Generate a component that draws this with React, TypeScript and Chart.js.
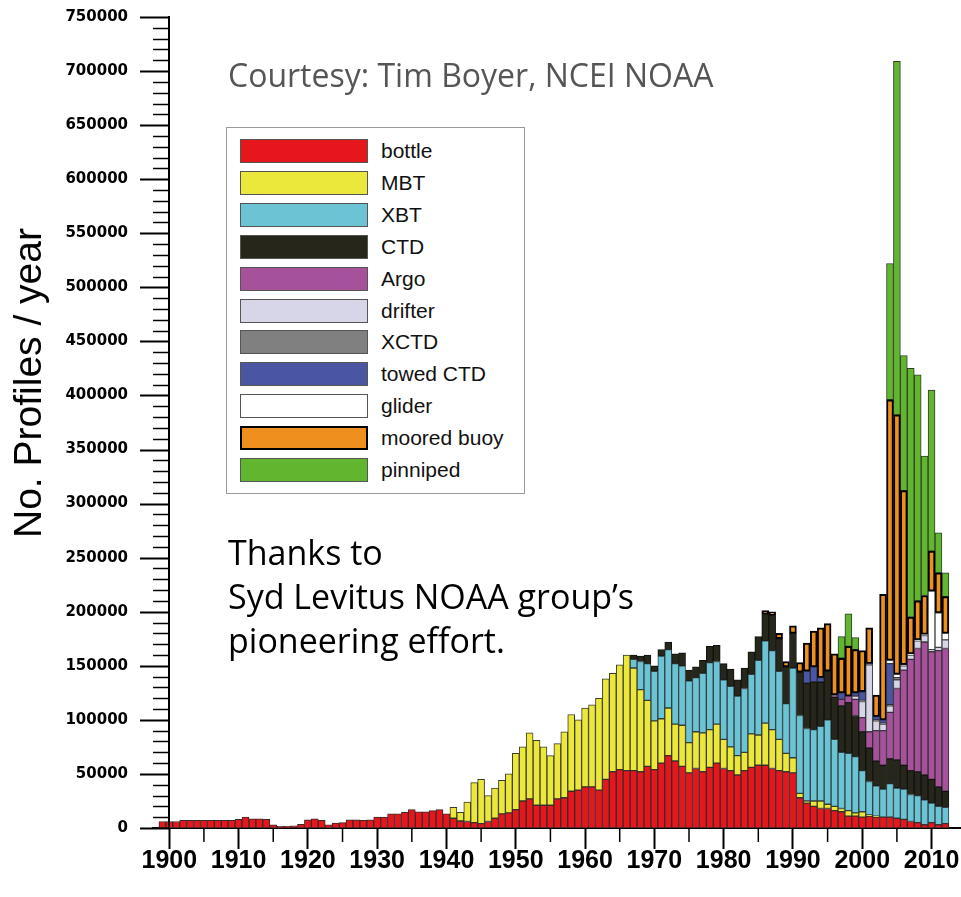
import React, { useEffect, useRef } from 'react';
import { Chart, registerables } from 'chart.js';

Chart.register(...registerables);

// ---------- categories ----------
const YEARS = [
  1899,
  1900, 1901, 1902, 1903, 1904, 1905, 1906, 1907, 1908, 1909,
  1910, 1911, 1912, 1913, 1914, 1915, 1916, 1917, 1918, 1919,
  1920, 1921, 1922, 1923, 1924, 1925, 1926, 1927, 1928, 1929,
  1930, 1931, 1932, 1933, 1934, 1935, 1936, 1937, 1938, 1939,
  1940, 1941, 1942, 1943, 1944, 1945, 1946, 1947, 1948, 1949,
  1950, 1951, 1952, 1953, 1954, 1955, 1956, 1957, 1958, 1959,
  1960, 1961, 1962, 1963, 1964, 1965, 1966, 1967, 1968, 1969,
  1970, 1971, 1972, 1973, 1974, 1975, 1976, 1977, 1978, 1979,
  1980, 1981, 1982, 1983, 1984, 1985, 1986, 1987, 1988, 1989,
  1990, 1991, 1992, 1993, 1994, 1995, 1996, 1997, 1998, 1999,
  2000, 2001, 2002, 2003, 2004, 2005, 2006, 2007, 2008, 2009,
  2010, 2011, 2012,
];

// ---------- series values (profiles per year) ----------
const BOTTLE = [
  6000,
  6000, 6000, 7000, 7000, 7000, 7000, 7000, 7000, 7000, 7000,
  8000, 10000, 8500, 8500, 8000, 3000, 1500, 1500, 2000, 3500,
  7500, 8500, 7000, 3000, 4500, 5000, 7500, 7500, 7000, 7500,
  10000, 10000, 13000, 13000, 14500, 17000, 15000, 15000, 16000, 17000,
  13000, 9000, 6500, 6000, 5000, 4000, 6000, 9000, 13000, 14000,
  17000, 25000, 27000, 21000, 21000, 21000, 27000, 28000, 34000, 35000,
  38000, 38000, 35000, 45000, 52000, 54000, 53000, 53000, 52000, 57000,
  54000, 60000, 67000, 62000, 57000, 51000, 55000, 52000, 56000, 60000,
  55000, 53000, 49000, 53000, 56000, 58000, 58000, 55000, 53000, 52000,
  51000, 28000, 23000, 20000, 18000, 18000, 16000, 15000, 11000, 11000,
  10000, 11000, 10000, 10000, 10000, 9000, 8000, 6000, 5000, 3000,
  5000, 3000, 4000,
];

const MBT = [
  0,
  0, 0, 0, 0, 0, 0, 0, 0, 0, 0,
  0, 0, 0, 0, 0, 0, 0, 0, 0, 0,
  0, 0, 0, 0, 0, 0, 0, 0, 0, 0,
  0, 0, 0, 0, 0, 0, 0, 0, 0, 0,
  0, 10000, 8000, 18000, 37000, 41000, 24000, 28000, 31000, 36000,
  52000, 50000, 61000, 60000, 54000, 46000, 51000, 61000, 71000, 65000,
  73000, 76000, 85000, 93000, 91000, 97000, 107000, 95000, 76000, 61000,
  45000, 41000, 44000, 34000, 38000, 28000, 34000, 36000, 35000, 36000,
  27000, 22000, 18000, 17000, 31000, 28000, 39000, 36000, 29000, 17000,
  14000, 4000, 2000, 5000, 7000, 4000, 4000, 3000, 5000, 3000,
  5000, 1000, 1000, 0, 0, 0, 0, 0, 0, 0,
  0, 0, 0,
];

const XBT = [
  0,
  0, 0, 0, 0, 0, 0, 0, 0, 0, 0,
  0, 0, 0, 0, 0, 0, 0, 0, 0, 0,
  0, 0, 0, 0, 0, 0, 0, 0, 0, 0,
  0, 0, 0, 0, 0, 0, 0, 0, 0, 0,
  0, 0, 0, 0, 0, 0, 0, 0, 0, 0,
  0, 0, 0, 0, 0, 0, 0, 0, 0, 0,
  0, 0, 0, 0, 0, 0, 0, 8000, 26000, 34000,
  46000, 58000, 54000, 56000, 55000, 57000, 50000, 55000, 62000, 58000,
  55000, 56000, 55000, 59000, 55000, 69000, 76000, 73000, 63000, 46000,
  83000, 72000, 67000, 66000, 69000, 78000, 62000, 52000, 53000, 52000,
  38000, 31000, 28000, 26000, 31000, 28000, 28000, 25000, 25000, 23000,
  18000, 17000, 15000,
];

const CTD = [
  0,
  0, 0, 0, 0, 0, 0, 0, 0, 0, 0,
  0, 0, 0, 0, 0, 0, 0, 0, 0, 0,
  0, 0, 0, 0, 0, 0, 0, 0, 0, 0,
  0, 0, 0, 0, 0, 0, 0, 0, 0, 0,
  0, 0, 0, 0, 0, 0, 0, 0, 0, 0,
  0, 0, 0, 0, 0, 0, 0, 0, 0, 0,
  0, 0, 0, 0, 0, 0, 0, 4000, 5000, 8000,
  5000, 6000, 7000, 9000, 12000, 10000, 10000, 12000, 15000, 15000,
  15000, 16000, 15000, 19000, 21000, 22000, 25000, 33000, 30000, 34000,
  32000, 40000, 42000, 44000, 41000, 45000, 39000, 43000, 47000, 38000,
  36000, 31000, 23000, 22000, 23000, 26000, 22000, 22000, 22000, 23000,
  22000, 18000, 15000,
];

const ARGO = [
  0,
  0, 0, 0, 0, 0, 0, 0, 0, 0, 0,
  0, 0, 0, 0, 0, 0, 0, 0, 0, 0,
  0, 0, 0, 0, 0, 0, 0, 0, 0, 0,
  0, 0, 0, 0, 0, 0, 0, 0, 0, 0,
  0, 0, 0, 0, 0, 0, 0, 0, 0, 0,
  0, 0, 0, 0, 0, 0, 0, 0, 0, 0,
  0, 0, 0, 0, 0, 0, 0, 0, 0, 0,
  0, 0, 0, 0, 0, 0, 0, 0, 0, 0,
  0, 0, 0, 0, 0, 0, 0, 0, 0, 0,
  0, 0, 0, 0, 0, 0, 2000, 6000, 6000, 15000,
  13000, 15000, 28000, 32000, 43000, 66000, 88000, 103000, 114000, 123000,
  118000, 126000, 132000,
];

const DRIFTER = [
  0,
  0, 0, 0, 0, 0, 0, 0, 0, 0, 0,
  0, 0, 0, 0, 0, 0, 0, 0, 0, 0,
  0, 0, 0, 0, 0, 0, 0, 0, 0, 0,
  0, 0, 0, 0, 0, 0, 0, 0, 0, 0,
  0, 0, 0, 0, 0, 0, 0, 0, 0, 0,
  0, 0, 0, 0, 0, 0, 0, 0, 0, 0,
  0, 0, 0, 0, 0, 0, 0, 0, 0, 0,
  0, 0, 0, 0, 0, 0, 0, 0, 0, 0,
  0, 0, 0, 0, 0, 0, 0, 0, 0, 0,
  0, 0, 0, 0, 0, 0, 0, 0, 0, 3000,
  15000, 62000, 9000, 6000, 6000, 8000, 4000, 4000, 7000, 6000,
  2000, 3000, 8000,
];

const XCTD = [
  0,
  0, 0, 0, 0, 0, 0, 0, 0, 0, 0,
  0, 0, 0, 0, 0, 0, 0, 0, 0, 0,
  0, 0, 0, 0, 0, 0, 0, 0, 0, 0,
  0, 0, 0, 0, 0, 0, 0, 0, 0, 0,
  0, 0, 0, 0, 0, 0, 0, 0, 0, 0,
  0, 0, 0, 0, 0, 0, 0, 0, 0, 0,
  0, 0, 0, 0, 0, 0, 0, 0, 0, 0,
  0, 0, 0, 0, 0, 0, 0, 0, 0, 0,
  0, 0, 0, 0, 0, 0, 0, 0, 0, 0,
  0, 0, 0, 0, 0, 0, 0, 0, 0, 0,
  1000, 1000, 1000, 1000, 1000, 2000, 0, 0, 0, 0,
  0, 0, 0,
];

const TOWED_CTD = [
  0,
  0, 0, 0, 0, 0, 0, 0, 0, 0, 0,
  0, 0, 0, 0, 0, 0, 0, 0, 0, 0,
  0, 0, 0, 0, 0, 0, 0, 0, 0, 0,
  0, 0, 0, 0, 0, 0, 0, 0, 0, 0,
  0, 0, 0, 0, 0, 0, 0, 0, 0, 0,
  0, 0, 0, 0, 0, 0, 0, 0, 0, 0,
  0, 0, 0, 0, 0, 0, 0, 0, 0, 0,
  0, 0, 0, 0, 0, 0, 0, 0, 0, 0,
  0, 0, 0, 0, 0, 0, 0, 0, 0, 0,
  0, 0, 11000, 14000, 4000, 0, 0, 6000, 0, 3000,
  8000, 0, 3000, 3000, 38000, 0, 0, 0, 0, 0,
  0, 0, 0,
];

const GLIDER = [
  0,
  0, 0, 0, 0, 0, 0, 0, 0, 0, 0,
  0, 0, 0, 0, 0, 0, 0, 0, 0, 0,
  0, 0, 0, 0, 0, 0, 0, 0, 0, 0,
  0, 0, 0, 0, 0, 0, 0, 0, 0, 0,
  0, 0, 0, 0, 0, 0, 0, 0, 0, 0,
  0, 0, 0, 0, 0, 0, 0, 0, 0, 0,
  0, 0, 0, 0, 0, 0, 0, 0, 0, 0,
  0, 0, 0, 0, 0, 0, 0, 0, 0, 0,
  0, 0, 0, 0, 0, 0, 0, 0, 0, 0,
  0, 0, 0, 0, 0, 0, 0, 0, 0, 0,
  0, 0, 0, 0, 3000, 3000, 1000, 1000, 1000, 1000,
  54000, 32000, 6000,
];

const MOORED_BUOY = [
  0,
  0, 0, 0, 0, 0, 0, 0, 0, 0, 0,
  0, 0, 0, 0, 0, 0, 0, 0, 0, 0,
  0, 0, 0, 0, 0, 0, 0, 0, 0, 0,
  0, 0, 0, 0, 0, 0, 0, 0, 0, 0,
  0, 0, 0, 0, 0, 0, 0, 0, 0, 0,
  0, 0, 0, 0, 0, 0, 0, 0, 0, 0,
  0, 0, 0, 0, 0, 0, 0, 0, 0, 0,
  0, 0, 0, 0, 0, 0, 0, 0, 0, 0,
  0, 0, 0, 0, 0, 0, 3000, 3000, 5000, 5000,
  7000, 9000, 26000, 33000, 46000, 44000, 38000, 32000, 46000, 40000,
  38000, 33000, 20000, 116000, 241000, 240000, 161000, 34000, 36000, 36000,
  37000, 37000, 34000,
];

const PINNIPED = [
  0,
  0, 0, 0, 0, 0, 0, 0, 0, 0, 0,
  0, 0, 0, 0, 0, 0, 0, 0, 0, 0,
  0, 0, 0, 0, 0, 0, 0, 0, 0, 0,
  0, 0, 0, 0, 0, 0, 0, 0, 0, 0,
  0, 0, 0, 0, 0, 0, 0, 0, 0, 0,
  0, 0, 0, 0, 0, 0, 0, 0, 0, 0,
  0, 0, 0, 0, 0, 0, 0, 0, 0, 0,
  0, 0, 0, 0, 0, 0, 0, 0, 0, 0,
  0, 0, 0, 0, 0, 0, 0, 0, 0, 0,
  0, 0, 0, 0, 0, 0, 0, 20000, 30000, 11000,
  0, 0, 0, 0, 126000, 327000, 125000, 230000, 209000, 129000,
  149000, 37000, 22000,
];

// ---------- axis ticks ----------
const X_MIN = 1897.65;
const X_MAX = 2014.25;
const X_LABEL_TICKS = [1900, 1910, 1920, 1930, 1940, 1950, 1960, 1970, 1980, 1990, 2000, 2010];
const X_MINOR_TICKS = [1905, 1915, 1925, 1935, 1945, 1955, 1965, 1975, 1985, 1995, 2005];
const Y_AXIS_AT_YEAR = 1900;
const Y_MAX = 750000;
const Y_MAJOR_STEP = 50000;
const Y_MINOR_TICKS = [
  0, 10000, 20000, 30000, 40000, 50000, 60000, 70000, 80000, 90000,
  100000, 110000, 120000, 130000, 140000, 150000, 160000, 170000, 180000, 190000,
  200000, 210000, 220000, 230000, 240000, 250000, 260000, 270000, 280000, 290000,
  300000, 310000, 320000, 330000, 340000, 350000, 360000, 370000, 380000, 390000,
  400000, 410000, 420000, 430000, 440000, 450000, 460000, 470000, 480000, 490000,
  500000, 510000, 520000, 530000, 540000, 550000, 560000, 570000, 580000, 590000,
  600000, 610000, 620000, 630000, 640000, 650000, 660000, 670000, 680000, 690000,
  700000, 710000, 720000, 730000, 740000, 750000,
];

const SERIES = [
  { label: 'bottle', data: BOTTLE, color: '#E5161C', border: '#3b2a2a', width: 1 },
  { label: 'MBT', data: MBT, color: '#ECE73B', border: '#3b3b2a', width: 1 },
  { label: 'XBT', data: XBT, color: '#6CC3D4', border: '#2f3f44', width: 1 },
  { label: 'CTD', data: CTD, color: '#26261A', border: '#111111', width: 1 },
  { label: 'Argo', data: ARGO, color: '#A5529B', border: '#3a2a38', width: 1 },
  { label: 'drifter', data: DRIFTER, color: '#D6D6E8', border: '#444444', width: 1 },
  { label: 'XCTD', data: XCTD, color: '#808080', border: '#333333', width: 1 },
  { label: 'towed CTD', data: TOWED_CTD, color: '#4A56A2', border: '#2a2a3a', width: 1 },
  { label: 'glider', data: GLIDER, color: '#FFFFFF', border: '#444444', width: 1 },
  { label: 'moored buoy', data: MOORED_BUOY, color: '#EF901E', border: '#000000', width: 2 },
  { label: 'pinniped', data: PINNIPED, color: '#62B52E', border: '#2f3f2a', width: 1 },
];

const axisMarksPlugin = {
  id: 'axisMarks',
  afterDraw(chart: any) {
    const { ctx } = chart;
    const xs = chart.scales.x;
    const ys = chart.scales.y;
    const ax = Math.round(xs.getPixelForValue(Y_AXIS_AT_YEAR));
    const top = ys.getPixelForValue(Y_MAX);
    const bottom = ys.getPixelForValue(0);
    ctx.save();
    ctx.strokeStyle = '#000';
    ctx.lineWidth = 2;
    ctx.beginPath();
    ctx.moveTo(ax, top - 1);
    ctx.lineTo(ax, bottom + 1);
    ctx.stroke();
    for (const v of Y_MINOR_TICKS) {
      const py = Math.round(ys.getPixelForValue(v)) + 0.5;
      const major = v % Y_MAJOR_STEP === 0;
      ctx.lineWidth = major ? 2 : 1.5;
      ctx.beginPath();
      ctx.moveTo(ax - (major ? 29 : 16), py);
      ctx.lineTo(ax, py);
      ctx.stroke();
    }
    ctx.lineWidth = 1.5;
    for (const yr of X_MINOR_TICKS) {
      const px = xs.getPixelForValue(yr);
      ctx.beginPath();
      ctx.moveTo(px, bottom);
      ctx.lineTo(px, bottom + 14);
      ctx.stroke();
    }
    ctx.restore();
  },
};

function StackChart() {
  const ref = useRef<HTMLCanvasElement | null>(null);
  useEffect(() => {
    if (!ref.current) return;
    const datasets = SERIES.map((s) => ({
      label: s.label,
      data: YEARS.map((yr, i) => ({ x: yr, y: s.data[i] === 0 ? null : s.data[i] })),
      backgroundColor: s.color,
      borderColor: s.border,
      borderWidth: s.width,
      borderSkipped: false,
      barPercentage: 1,
      categoryPercentage: 1,
      stack: 'all',
    }));
    const chart = new Chart(ref.current, {
      type: 'bar',
      data: { datasets: datasets as any },
      options: {
        animation: false,
        responsive: false,
        devicePixelRatio: 1,
        events: [],
        layout: { padding: { top: 17, right: 0, bottom: 0, left: 0 } },
        plugins: { legend: { display: false }, tooltip: { enabled: false } },
        scales: {
          x: {
            type: 'linear',
            min: X_MIN,
            max: X_MAX,
            offset: false,
            stacked: true,
            afterBuildTicks: (s: any) => {
              s.ticks = X_LABEL_TICKS.map((v) => ({ value: v }));
            },
            afterFit: (s: any) => {
              s.height = 69;
              s.paddingLeft = 0;
              s.paddingRight = 0;
            },
            ticks: {
              autoSkip: false,
              maxRotation: 0,
              padding: -3,
              color: '#000',
              font: { family: 'Liberation Sans', weight: 'bold', size: 25 },
              callback: (v: any) => String(v),
            },
            grid: {
              display: true,
              offset: false,
              drawOnChartArea: false,
              drawTicks: true,
              tickLength: 21,
              tickWidth: 2,
              tickColor: '#000',
            },
            border: { display: true, color: '#000', width: 2 },
          },
          y: {
            stacked: true,
            min: 0,
            max: Y_MAX,
            afterFit: (s: any) => {
              s.width = 153;
              s.paddingTop = 0;
              s.paddingBottom = 0;
            },
            ticks: {
              stepSize: Y_MAJOR_STEP,
              padding: 25,
              color: '#000',
              font: { family: 'DejaVu Sans', weight: 'bold', size: 15 },
              callback: (v: any) => String(v),
            },
            grid: { display: false, drawTicks: false },
            border: { display: false },
          },
        },
      },
      plugins: [axisMarksPlugin],
    });
    return () => chart.destroy();
  }, []);
  return <canvas ref={ref} width={961} height={897} style={{ position: 'absolute', left: 0, top: 0 }} />;
}

function Legend() {
  return (
    <div
      style={{
        position: 'absolute',
        left: 226,
        top: 127,
        width: 297,
        height: 365,
        border: '1px solid #9a9a9a',
        background: '#fff',
      }}
    >
      {SERIES.map((s, i) => (
        <div key={s.label} style={{ position: 'absolute', left: 0, top: 11 + i * 31.9, height: 24, width: 297 }}>
          <div
            style={{
              position: 'absolute',
              left: 13,
              top: 0,
              width: 128 - 2 * s.width,
              height: 24 - 2 * s.width,
              background: s.color,
              border: `${s.width}px solid ${s.width > 1 ? '#000' : '#555'}`,
            }}
          />
          <div
            style={{
              position: 'absolute',
              left: 154,
              top: 0,
              height: 24,
              lineHeight: '24px',
              fontFamily: '"Liberation Sans", Arial, sans-serif',
              fontSize: 21,
              color: '#111',
              whiteSpace: 'nowrap',
            }}
          >
            {s.label}
          </div>
        </div>
      ))}
    </div>
  );
}

export default function App() {
  return (
    <div
      style={{
        position: 'fixed',
        left: 0,
        top: 0,
        width: 961,
        height: 897,
        background: '#fff',
        overflow: 'hidden',
      }}
    >
      <StackChart />
      <div
        style={{
          position: 'absolute',
          left: 28,
          top: 383,
          transform: 'translate(-50%, -50%) rotate(-90deg)',
          fontFamily: '"Liberation Sans Narrow", "Liberation Sans", sans-serif',
          fontSize: 39,
          color: '#000',
          whiteSpace: 'nowrap',
        }}
      >
        No. Profiles / year
      </div>
      <div
        style={{
          position: 'absolute',
          left: 228,
          top: 55,
          fontFamily: '"Open Sans", sans-serif',
          fontSize: 32,
          lineHeight: '40px',
          color: '#555',
          whiteSpace: 'nowrap',
        }}
      >
        Courtesy: Tim Boyer, NCEI NOAA
      </div>
      <div
        style={{
          position: 'absolute',
          left: 228,
          top: 530,
          fontFamily: '"Open Sans", sans-serif',
          fontSize: 34,
          lineHeight: '44px',
          color: '#000',
          whiteSpace: 'nowrap',
        }}
      >
        <div>Thanks to</div>
        <div>Syd Levitus NOAA group’s</div>
        <div>pioneering effort.</div>
      </div>
      <Legend />
    </div>
  );
}
